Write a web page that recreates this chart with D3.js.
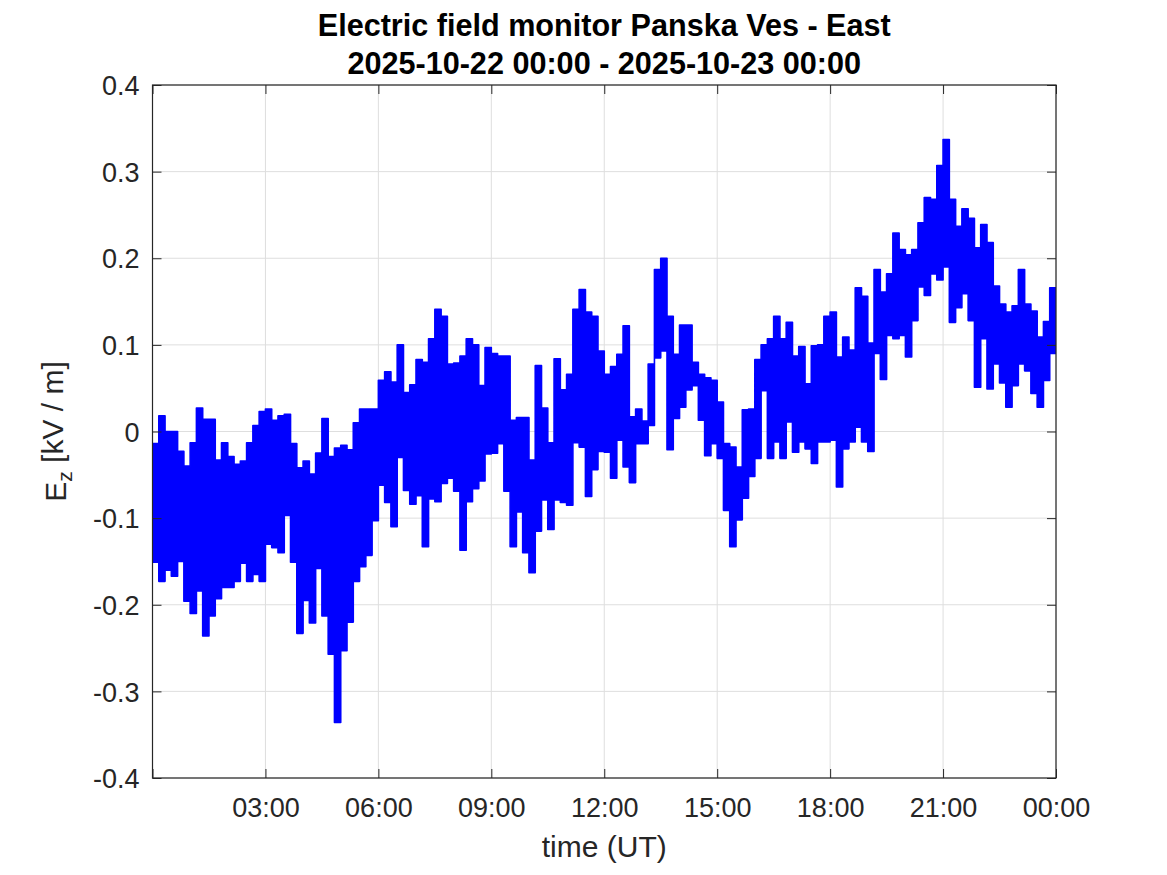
<!DOCTYPE html>
<html>
<head>
<meta charset="utf-8">
<script src="https://cdn.jsdelivr.net/npm/d3@7/dist/d3.min.js"></script>
<style>
    body { margin: 0; background: #fff; }
    text { font-family: "Liberation Sans", Arial, Helvetica, sans-serif; fill: #262626; }
</style>
</head>
<body>
<svg id="chart" width="1167" height="875"></svg>
<script>
// Electric field record, one day, drawn as 10-minute min/max envelope

const startTime = Date.UTC(2025, 9, 22, 0, 0);
const endTime = Date.UTC(2025, 9, 23, 0, 0);
const binMinutes = 10;

// upper edge of the trace in each 10-min bin [kV/m]
const fieldHigh = [
    -0.014, 0.018, 0.000, 0.000, -0.023, -0.040, -0.013, 0.027, 0.014, 0.014,
    -0.033, -0.013, -0.029, -0.038, -0.034, -0.013, 0.007, 0.023,
    0.026, 0.013, 0.018, 0.020, -0.014, -0.042, -0.034, -0.049, -0.025, 0.015, -0.029, -0.019, -0.016, -0.021, 0.010, 0.026, 0.026, 0.026,
    0.059, 0.069, 0.057, 0.100, 0.045, 0.054, 0.083, 0.080, 0.107, 0.141, 0.133, 0.078, 0.079, 0.087, 0.107, 0.100, 0.053, 0.097,
    0.090, 0.087, 0.087, 0.013, 0.016, 0.016, -0.033, 0.076, 0.027, -0.013, 0.084, 0.048, 0.066, 0.141, 0.164, 0.138, 0.133, 0.093,
    0.066, 0.075, 0.089, 0.122, 0.017, 0.026, 0.012, 0.078, 0.187, 0.200, 0.133, 0.089, 0.123, 0.123, 0.080, 0.066, 0.062, 0.059,
    0.034, -0.014, -0.018, -0.041, 0.025, 0.026, 0.083, 0.100, 0.107, 0.133, 0.107, 0.126, 0.087, 0.098, 0.055, 0.099, 0.100, 0.133,
    0.138, 0.086, 0.109, 0.094, 0.166, 0.156, 0.102, 0.187, 0.161, 0.182, 0.229, 0.210, 0.204, 0.210, 0.241, 0.270, 0.268, 0.307,
    0.337, 0.268, 0.237, 0.257, 0.246, 0.212, 0.239, 0.218, 0.168, 0.147, 0.138, 0.145, 0.187, 0.147, 0.139, 0.109, 0.127, 0.166,
    0.160
];

// lower edge of the trace in each 10-min bin [kV/m]
const fieldLow = [
    -0.151, -0.173, -0.160, -0.167, -0.150, -0.196, -0.210, -0.184, -0.236, -0.213,
    -0.193, -0.180, -0.180, -0.173, -0.152, -0.173, -0.165, -0.173,
    -0.130, -0.134, -0.140, -0.097, -0.151, -0.233, -0.195, -0.221, -0.158, -0.213, -0.257, -0.336, -0.253, -0.220, -0.173, -0.156, -0.143, -0.103,
    -0.062, -0.082, -0.110, -0.030, -0.068, -0.084, -0.074, -0.133, -0.078, -0.081, -0.060, -0.054, -0.069, -0.137, -0.081, -0.066, -0.057, -0.026,
    -0.025, -0.014, -0.069, -0.133, -0.093, -0.140, -0.163, -0.115, -0.079, -0.113, -0.079, -0.082, -0.085, -0.013, -0.018, -0.075, -0.044, -0.023,
    -0.024, -0.054, -0.010, -0.041, -0.059, -0.014, -0.014, 0.007, 0.085, 0.093, -0.021, 0.015, 0.028, 0.048, 0.053, 0.013, -0.028, -0.014,
    -0.031, -0.091, -0.133, -0.102, -0.077, -0.052, -0.031, 0.047, -0.031, -0.012, -0.031, 0.011, -0.024, -0.012, -0.020, -0.037, -0.012, -0.012,
    -0.010, -0.064, -0.020, -0.012, 0.005, -0.012, -0.023, 0.090, 0.060, 0.111, 0.107, 0.111, 0.086, 0.128, 0.167, 0.157, 0.182, 0.175,
    0.190, 0.126, 0.143, 0.159, 0.128, 0.051, 0.107, 0.049, 0.078, 0.056, 0.028, 0.053, 0.078, 0.070, 0.044, 0.028, 0.059, 0.090,
    0.092
];

const yTicks = [-0.4, -0.3, -0.2, -0.1, 0, 0.1, 0.2, 0.3, 0.4];
const xTickHours = [0, 3, 6, 9, 12, 15, 18, 21, 24];

const titleLines = ['Electric field monitor Panska Ves - East', '2025-10-22 00:00 - 2025-10-23 00:00'];

const margin = { top: 85, right: 111, bottom: 97, left: 152.5 };
const W = 1167, H = 875;
const width = W - margin.left - margin.right;
const height = H - margin.top - margin.bottom;

const svg = d3.select('#chart');
const g = svg.append('g').attr('transform', `translate(${margin.left},${margin.top})`);

const x = d3.scaleUtc().domain([new Date(startTime), new Date(endTime)]).range([0, width]);
const y = d3.scaleLinear().domain([-0.4, 0.4]).range([height, 0]);

const xTicks = xTickHours.map(h => new Date(startTime + h * 3600e3));
const fmtTime = d3.utcFormat('%H:%M');

const data = fieldHigh.map((hi, i) => ({
    t: new Date(startTime + i * binMinutes * 60e3),
    hi,
    lo: fieldLow[i]
}));

// grid
g.append('g').selectAll('line').data(yTicks).join('line')
    .attr('x1', 0).attr('x2', width)
    .attr('y1', d => y(d)).attr('y2', d => y(d))
    .attr('stroke', '#dedede').attr('stroke-width', 1);
g.append('g').selectAll('line').data(xTicks).join('line')
    .attr('y1', 0).attr('y2', height)
    .attr('x1', d => x(d)).attr('x2', d => x(d))
    .attr('stroke', '#dedede').attr('stroke-width', 1);

// trace
g.append('clipPath').attr('id', 'plot-clip')
    .append('rect').attr('width', width).attr('height', height);

const band = d3.area()
    .x(d => x(d.t))
    .y0(d => y(d.lo))
    .y1(d => y(d.hi))
    .curve(d3.curveStepAfter);

g.append('path')
    .datum(data)
    .attr('clip-path', 'url(#plot-clip)')
    .attr('d', band)
    .attr('fill', '#0000ff')
    .attr('stroke', '#0000ff')
    .attr('stroke-width', 1.6)
    .attr('stroke-linejoin', 'round');

// axes, MATLAB style box with inward ticks
const tickLen = 9;
const yFmt = d => d === 0 ? '0' : d.toFixed(1);

const styleAxis = sel => {
    sel.select('.domain').remove();
    sel.selectAll('.tick line').attr('stroke', '#262626');
    sel.selectAll('.tick text').attr('fill', '#262626').style('font-size', '27px');
};

g.append('g')
    .call(d3.axisLeft(y).tickValues(yTicks).tickFormat(yFmt).tickSize(-tickLen).tickPadding(13))
    .call(styleAxis)
    .selectAll('.tick text').attr('dy', '0.36em');

g.append('g')
    .attr('transform', `translate(${width},0)`)
    .call(d3.axisRight(y).tickValues(yTicks).tickFormat('').tickSize(-tickLen))
    .call(styleAxis);

g.append('g')
    .attr('transform', `translate(0,${height})`)
    .call(d3.axisBottom(x).tickValues(xTicks).tickFormat((d, i) => i === 0 ? '' : fmtTime(d)).tickSize(-tickLen).tickPadding(20))
    .call(styleAxis);

g.append('g')
    .call(d3.axisTop(x).tickValues(xTicks).tickFormat('').tickSize(-tickLen))
    .call(styleAxis);

g.append('rect')
    .attr('width', width).attr('height', height)
    .attr('fill', 'none').attr('stroke', '#262626').attr('stroke-width', 1.2);

// labels
svg.append('text')
    .attr('x', margin.left + width / 2).attr('y', 857)
    .attr('text-anchor', 'middle')
    .style('font-size', '30px')
    .text('time (UT)');

const yLab = svg.append('text')
    .attr('transform', `translate(66,${margin.top + height / 2}) rotate(-90)`)
    .attr('text-anchor', 'middle')
    .style('font-size', '30px');
yLab.append('tspan').text('E');
yLab.append('tspan').attr('dy', '0.3em').style('font-size', '21px').text('z');
yLab.append('tspan').attr('dy', '-0.3em').text(' [kV / m]');

svg.append('g').selectAll('text').data(titleLines).join('text')
    .attr('x', margin.left + width / 2)
    .attr('y', (d, i) => 36 + i * 38)
    .attr('text-anchor', 'middle')
    .style('font-size', '30.6px')
    .style('font-weight', 'bold')
    .style('fill', '#000')
    .text(d => d);
</script>
</body>
</html>
